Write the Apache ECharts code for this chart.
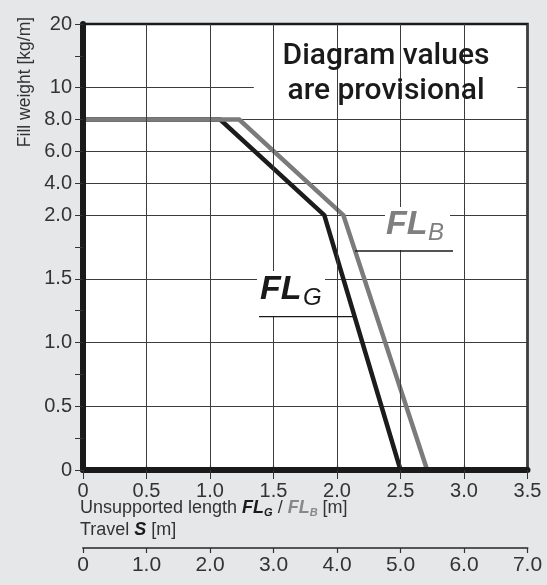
<!DOCTYPE html>
<html><head><meta charset="utf-8">
<script src="https://cdn.jsdelivr.net/npm/echarts@6/dist/echarts.min.js"></script>
<style>html,body{margin:0;padding:0;background:#e6e7e9;}#c{width:547px;height:585px;}</style>
</head><body><div id="c"></div>
<script>
// ---- data ----
const xTickValues = [0, 0.5, 1, 1.5, 2, 2.5, 3, 3.5];
const xTickLabels = ['0', '0.5', '1.0', '1.5', '2.0', '2.5', '3.0', '3.5'];
const travelTickValues = [0, 1, 2, 3, 4, 5, 6, 7];
const travelTickLabels = ['0', '1.0', '2.0', '3.0', '4.0', '5.0', '6.0', '7.0'];
const yTickValues = [0, 0.5, 1, 1.5, 2, 4, 6, 8, 10, 20];
const yTickLabels = ['0', '0.5', '1.0', '1.5', '2.0', '4.0', '6.0', '8.0', '10', '20'];
const yMinorValues = [0.25, 0.75, 1.25, 1.75, 15];
const flgLength = [0, 1.08, 1.9, 2.5];
const flgWeight = [8, 8, 2, 0];
const flbLength = [0, 1.23, 2.05, 2.71];
const flbWeight = [8, 8, 2, 0];

// piecewise scale of the fill-weight axis (0-2 linear, 2-10 compressed, 10-20 compressed)
function ty(v) {
  if (v <= 2) return v * 2;
  if (v <= 10) return 4 + (v - 2) / 4;
  return 6 + (v - 10) / 10;
}
const yMajorT = yTickValues.map(ty);
const yAllT = yTickValues.concat(yMinorValues).map(ty).sort((a, b) => a - b);
const yGridT = yMajorT.filter(t => t > 0 && t < 7);

function labelFor(vals, labels, v) {
  for (let i = 0; i < vals.length; i++) if (Math.abs(vals[i] - v) < 1e-6) return labels[i];
  return '';
}

const FONT = '"Liberation Sans", Arial, Helvetica, sans-serif';
const FONT2 = 'Roboto, "Liberation Sans", Arial, sans-serif';
const chart = echarts.init(document.getElementById('c'), null, {renderer: 'canvas'});

chart.setOption({
  backgroundColor: '#e6e7e9',
  animation: false,
  grid: {
    left: 83, right: 19.5, top: 24, bottom: 115,
    show: true, backgroundColor: '#ffffff', borderColor: '#1a1a1a', borderWidth: 2.5
  },
  xAxis: [
    {
      type: 'value', position: 'bottom', min: 0, max: 3.5, interval: 0.5, z: 5,
      axisLine: {show: true, onZero: false, lineStyle: {color: '#1a1a1a', width: 6}},
      axisTick: {show: true, length: 9, lineStyle: {color: '#333', width: 1}},
      axisLabel: {
        margin: 11, fontSize: 20, fontFamily: FONT, color: '#333',
        formatter: v => labelFor(xTickValues, xTickLabels, v)
      },
      splitLine: {show: true, lineStyle: {color: '#3c3c3c', width: 1}}
    },
    {
      type: 'value', position: 'bottom', offset: 78, min: 0, max: 7, interval: 1,
      axisLine: {show: true, onZero: false, lineStyle: {color: '#555', width: 2}},
      axisTick: {show: true, inside: false, length: 5, lineStyle: {color: '#333', width: 1.2}},
      axisLabel: {
        margin: 7, fontSize: 21, fontFamily: FONT, color: '#333',
        formatter: v => labelFor(travelTickValues, travelTickLabels, v)
      },
      splitLine: {show: false}
    },
    {
      type: 'value', position: 'bottom', offset: 78, min: 0, max: 7, interval: 1,
      axisLine: {show: false},
      axisTick: {show: true, inside: true, length: 5, lineStyle: {color: '#333', width: 1.2}},
      axisLabel: {show: false},
      splitLine: {show: false}
    }
  ],
  yAxis: [
    {
      type: 'value', position: 'left', min: 0, max: 7, z: 5,
      axisLine: {show: true, onZero: false, lineStyle: {color: '#1a1a1a', width: 6}},
      axisTick: {show: true, length: 8, customValues: yAllT, lineStyle: {color: '#333', width: 1}},
      axisLabel: {
        margin: 11, fontSize: 20, fontFamily: FONT, color: '#333',
        customValues: yMajorT,
        formatter: v => labelFor(yMajorT, yTickLabels, v)
      },
      splitLine: {show: false}
    },
    {
      type: 'value', position: 'left', min: 0, max: 7,
      axisLine: {show: false},
      axisTick: {show: false, customValues: yGridT},
      axisLabel: {show: false},
      splitLine: {show: true, lineStyle: {color: '#3c3c3c', width: 1}}
    }
  ],
  series: [
    {
      type: 'line', name: 'box', z: 1, silent: true, symbol: 'none',
      data: [], lineStyle: {opacity: 0},
      markArea: {
        silent: true, itemStyle: {color: '#ffffff', opacity: 1},
        label: {show: false},
        data: [[{coord: [1.345, 5.57]}, {coord: [3.42, 6.86]}]]
      }
    },
    {
      type: 'line', name: 'FLG', z: 3, symbol: 'none',
      data: flgLength.map((x, i) => [x, ty(flgWeight[i])]),
      lineStyle: {color: '#1c1c1c', width: 4.5, join: 'miter'}
    },
    {
      type: 'line', name: 'FLB', z: 4, symbol: 'none',
      data: flbLength.map((x, i) => [x, ty(flbWeight[i])]),
      lineStyle: {color: '#7b7b7b', width: 4.5, join: 'miter'}
    }
  ],
  graphic: [
    {type: 'text', z: 100, x: 25, y: 82, rotation: Math.PI / 2,
      style: {text: 'Fill weight [kg/m]', fontSize: 17.5, fontFamily: FONT, fill: '#333',
        align: 'center', verticalAlign: 'middle'}},
    {type: 'text', z: 100, x: 386, y: 39,
      style: {text: 'Diagram values\nare provisional', fontSize: 30, lineHeight: 35, fontFamily: FONT2,
        fontWeight: 500, fill: '#1a1a1a', align: 'center', verticalAlign: 'top'}},
    {type: 'rect', z: 50, shape: {x: 257, y: 271, width: 68, height: 45}, style: {fill: '#fff'}},
    {type: 'text', z: 100, x: 260, y: 289.5,
      style: {text: 'FL', fontSize: 34, fontStyle: 'italic', fontWeight: 'bold', fontFamily: FONT,
        fill: '#1a1a1a', align: 'left', verticalAlign: 'middle'}},
    {type: 'text', z: 100, x: 303, y: 298.5,
      style: {text: 'G', fontSize: 24, fontStyle: 'italic', fontWeight: 'normal', fontFamily: FONT,
        fill: '#1a1a1a', align: 'left', verticalAlign: 'middle'}},
    {type: 'line', z: 100, shape: {x1: 259, y1: 316.7, x2: 353, y2: 316.7}, style: {stroke: '#1a1a1a', lineWidth: 1.3}},
    {type: 'rect', z: 50, shape: {x: 385, y: 207, width: 65, height: 43}, style: {fill: '#fff'}},
    {type: 'text', z: 100, x: 386, y: 224.5,
      style: {text: 'FL', fontSize: 34, fontStyle: 'italic', fontWeight: 'bold', fontFamily: FONT,
        fill: '#7f7f7f', align: 'left', verticalAlign: 'middle'}},
    {type: 'text', z: 100, x: 428, y: 233.5,
      style: {text: 'B', fontSize: 24, fontStyle: 'italic', fontWeight: 'normal', fontFamily: FONT,
        fill: '#7f7f7f', align: 'left', verticalAlign: 'middle'}},
    {type: 'line', z: 100, shape: {x1: 355, y1: 251, x2: 453, y2: 251}, style: {stroke: '#1a1a1a', lineWidth: 1.3}},
    {type: 'text', z: 100, x: 80, y: 508,
      style: {
        text: '{n|Unsupported length }{b|FL}{bs|G}{n| / }{g|FL}{gs|B}{n| [m]}',
        align: 'left', verticalAlign: 'middle',
        rich: {
          n: {fontSize: 18, fontFamily: FONT, fill: '#333', lineHeight: 22, verticalAlign: 'middle'},
          b: {fontSize: 18, fontWeight: 'bold', fontStyle: 'italic', fontFamily: FONT, fill: '#1a1a1a', lineHeight: 22, verticalAlign: 'middle'},
          bs: {fontSize: 11, fontWeight: 'bold', fontStyle: 'italic', fontFamily: FONT, fill: '#1a1a1a', lineHeight: 22, padding: [9, 0, 0, 0], verticalAlign: 'middle'},
          g: {fontSize: 18, fontWeight: 'bold', fontStyle: 'italic', fontFamily: FONT, fill: '#888', lineHeight: 22, verticalAlign: 'middle'},
          gs: {fontSize: 11, fontWeight: 'bold', fontStyle: 'italic', fontFamily: FONT, fill: '#888', lineHeight: 22, padding: [9, 0, 0, 0], verticalAlign: 'middle'}
        }
      }},
    {type: 'text', z: 100, x: 80, y: 530,
      style: {
        text: '{n|Travel }{b|S}{n| [m]}',
        align: 'left', verticalAlign: 'middle',
        rich: {
          n: {fontSize: 18, fontFamily: FONT, fill: '#333', lineHeight: 22},
          b: {fontSize: 18, fontWeight: 'bold', fontStyle: 'italic', fontFamily: FONT, fill: '#1a1a1a', lineHeight: 22}
        }
      }}
  ]
});
</script></body></html>
